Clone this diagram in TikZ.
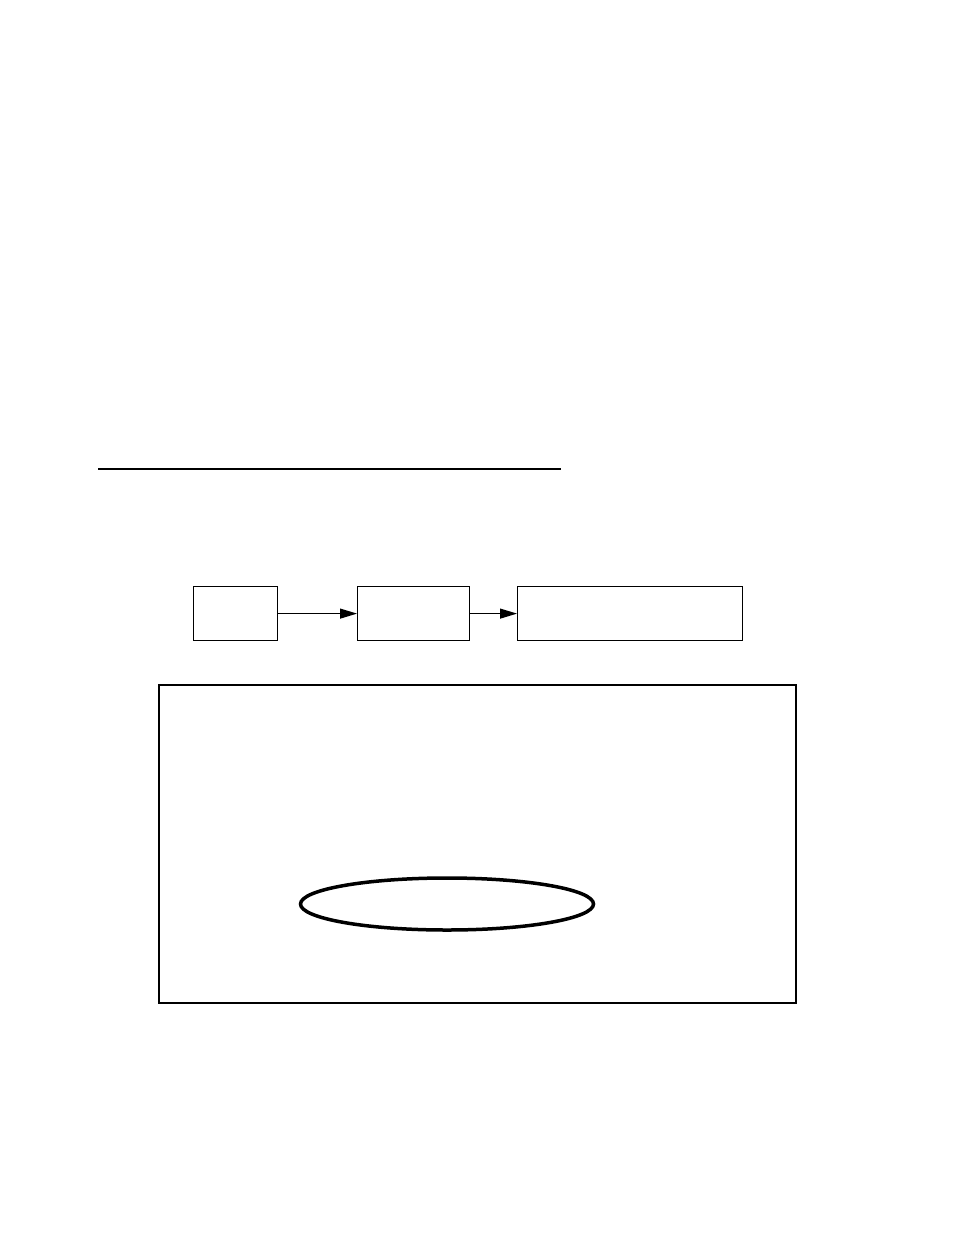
\documentclass[tikz,border=0pt]{standalone}
\usetikzlibrary{arrows.meta,shapes.geometric}
\begin{document}
\begin{tikzpicture}[x=1pt,y=-1pt,
  boxstyle/.style={draw,line width=1.2pt,inner sep=0pt,anchor=north west},
  conn/.style={line width=1.1pt,-{Triangle[length=17pt,width=10pt]}},
  ovalstyle/.style={draw,ellipse,line width=3.5pt,inner sep=0pt,minimum width=293pt,minimum height=52pt}]
\useasboundingbox (0,0) rectangle (954,1235);
\coordinate (la) at (98,469);
\coordinate (lb) at (561,469);
\draw[line width=1.3pt] (la) -- (lb);
\node[boxstyle,minimum width=84pt,minimum height=54pt] (b1) at (193,586) {};
\node[boxstyle,minimum width=112pt,minimum height=54pt] (b2) at (357,586) {};
\node[boxstyle,minimum width=225pt,minimum height=54pt] (b3) at (517,586) {};
\draw[conn] (b1.east) -- (b2.west);
\draw[conn] (b2.east) -- (b3.west);
\node[boxstyle,line width=2pt,minimum width=637pt,minimum height=318.5pt] (frame) at (157.5,683.5) {};
\node[ovalstyle] (ov) at (447,904) {};
\end{tikzpicture}
\end{document}
